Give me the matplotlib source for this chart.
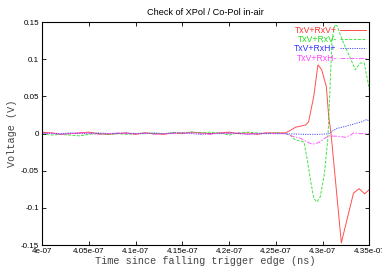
import numpy as np
import matplotlib
matplotlib.use('Agg')
import matplotlib.pyplot as plt
from matplotlib.ticker import FuncFormatter

# time offsets in ns after 4e-07 s, voltages in V
flat_t = list(range(26))
red_flat = [0.002, 0.001, -0.001, 0.000, 0.001, 0.002, 0.000, -0.001, 0.000, 0.001, -0.001, 0.001, 0.000,
            -0.001, 0.001, 0.000, 0.002, 0.001, 0.000, 0.001, 0.002, 0.000, 0.001, -0.001, 0.001, 0.001]
green_flat = [0.000, -0.002, -0.001, -0.002, -0.003, -0.001, 0.000, -0.001, 0.000, -0.001, 0.000, 0.001, 0.000,
              0.000, 0.001, 0.001, 0.002, 0.001, 0.002, 0.001, -0.002, 0.001, 0.002, 0.001, 0.000, 0.001]
blue_flat = [0.001, 0.000, 0.000, 0.001, 0.000, 0.000, 0.001, 0.000, 0.000, 0.001, 0.000, 0.000, 0.001,
             0.000, 0.001, 0.001, 0.000, -0.001, 0.000, 0.000, 0.001, 0.000, -0.001, 0.000, 0.000, 0.000]
mag_flat = [0.000, 0.001, -0.001, 0.000, 0.001, 0.001, -0.001, 0.000, 0.001, 0.000, 0.000, 0.001, -0.001,
            0.000, 0.000, 0.001, 0.001, 0.000, -0.001, 0.001, 0.000, 0.001, -0.001, 0.000, 0.001, 0.000]

red_t = [26, 26.5, 27.1, 27.6, 28.2, 28.5, 29.05, 29.5, 29.9, 30.4, 30.65, 30.9, 32.0, 32.6, 33.3, 33.9, 34.5, 35.0]
red_v = [0.001, 0.004, 0.0086, 0.010, 0.0117, 0.016, 0.05, 0.0926, 0.086, 0.063, 0.023, 0.0,
         -0.147, -0.116, -0.080, -0.074, -0.081, -0.075]

green_t = [26, 26.5, 27.1, 28.0, 28.3, 28.7, 29.05, 29.4, 29.75, 30.2, 30.55, 30.65, 31.0, 31.3, 31.55,
           32.1, 32.8, 33.5, 34.0, 34.45, 35.0]
green_v = [0.0, -0.002, -0.0085, -0.011, -0.031, -0.062, -0.087, -0.092, -0.085, -0.053, -0.008, 0.018,
           0.126, 0.1465, 0.145, 0.126, 0.106, 0.086, 0.095, 0.095, 0.059]

blue_t = [26, 27, 28, 29, 30, 30.65, 31.5, 32.2, 33.0, 33.6, 34.2, 34.7, 35.0]
blue_v = [0.0, -0.0005, -0.001, -0.001, -0.0008, 0.0, 0.007, 0.009, 0.0117, 0.014, 0.016, 0.019, 0.017]

mag_t = [26, 26.9, 27.6, 28.3, 28.9, 29.6, 29.95, 30.65, 31.5, 32.0, 32.4, 33.0, 33.3, 34.0, 35.0]
mag_v = [0.0, -0.004, -0.006, -0.011, -0.0143, -0.012, -0.0085, -0.003, -0.0035, -0.004, -0.005,
         -0.002, 0.001, 0.0, 0.0]

labels = ['TxV+RxV+', 'TxV+RxV-', 'TxV+RxH+', 'TxV+RxH-']
x_ticks = [4e-07, 4.05e-07, 4.1e-07, 4.15e-07, 4.2e-07, 4.25e-07, 4.3e-07, 4.35e-07]
y_ticks = [-0.15, -0.1, -0.05, 0, 0.05, 0.1, 0.15]


def to_sec(ts):
    return 4e-07 + np.asarray(ts, dtype=float) * 1e-9


series = [
    (flat_t + red_t, red_flat + red_v, '#ff3030', '-'),
    (flat_t + green_t, green_flat + green_v, '#20e020', (0, (3, 1.5))),
    (flat_t + blue_t, blue_flat + blue_v, '#3030ff', (0, (1.2, 1.2))),
    (flat_t + mag_t, mag_flat + mag_v, '#ff40ff', (0, (5, 1.5, 1.5, 1.5))),
]

fig = plt.figure(figsize=(3.82, 2.67), dpi=100)
ax = fig.add_axes([0.110, 0.082, 0.857, 0.835])

for (t, v, c, ls), lab in zip(series, labels):
    ax.plot(to_sec(t), v, color=c, linestyle=ls, linewidth=0.7, alpha=0.85, label=lab)

ax.set_xlim(4e-07, 4.35e-07)
ax.set_ylim(-0.15, 0.15)
ax.set_xticks(x_ticks)
ax.set_yticks(y_ticks)
fmt = FuncFormatter(lambda v, p: '%g' % v)
ax.xaxis.set_major_formatter(fmt)
ax.yaxis.set_major_formatter(fmt)
ax.tick_params(direction='in', length=3, width=0.6, labelsize=5.8, pad=2,
               top=True, right=True, labelfontfamily='Liberation Sans')
for s in ax.spines.values():
    s.set_linewidth(0.8)

ax.set_title('Check of XPol / Co-Pol in-air', fontsize=6.6, family='Liberation Sans', pad=5)
ax.set_xlabel('Time since falling trigger edge (ns)', fontsize=7.3, family='Liberation Mono',
              color='#444444', labelpad=1)
ax.set_ylabel('Voltage (V)', fontsize=7.3, family='Liberation Mono', color='#444444', labelpad=3)

leg = ax.legend(loc='upper right', frameon=False, markerfirst=False, labelcolor='linecolor',
                prop={'family': 'Liberation Sans', 'size': 6.2}, handlelength=3.0,
                handletextpad=0.4, labelspacing=0.05, borderaxespad=0.2, borderpad=0.2)

fig.savefig('out.png', dpi=100)
